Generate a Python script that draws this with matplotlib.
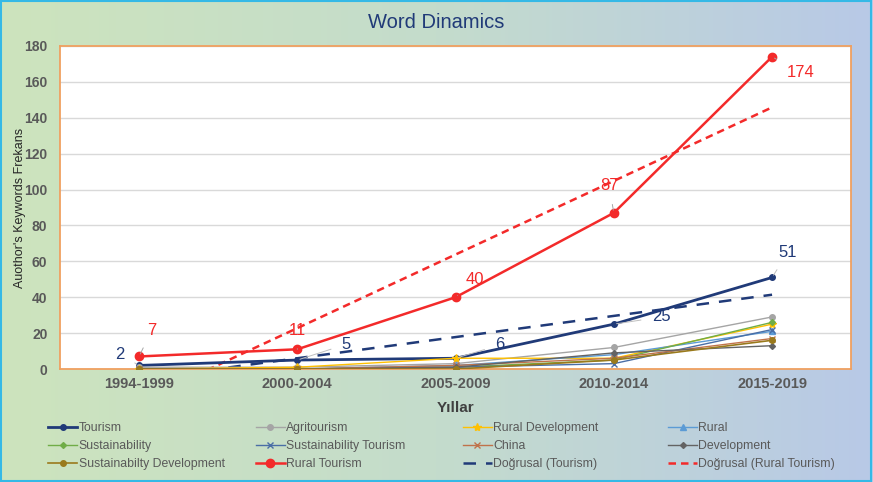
import numpy as np
import matplotlib
matplotlib.use("Agg")
import matplotlib.pyplot as plt
from matplotlib.colors import LinearSegmentedColormap

plt.rcParams["font.family"] = ["Liberation Sans", "DejaVu Sans"]

# data
periods = ["1994-1999", "2000-2004", "2005-2009", "2010-2014", "2015-2019"]
tourism = [2, 5, 6, 25, 51]
agritourism = [1, 1, 3, 12, 29]
rural_development = [0, 1, 6, 6, 25]
rural = [0, 0, 2, 8, 21]
sustainability = [0, 0, 1, 5, 26]
sustainability_tourism = [0, 0, 1, 3, 22]
china = [0, 0, 2, 6, 17]
development = [0, 0, 1, 9, 13]
sustainabilty_development = [0, 0, 0, 5, 16]
rural_tourism = [7, 11, 40, 87, 174]

labels_tourism = [(0, -0.12, 8), (1, 1.31, 13.8), (2, 2.28, 13.4), (3, 3.3, 29), (4, 4.1, 65)]
labels_rural = [(0, 0.08, 21.7), (1, 1.0, 21.7), (2, 2.12, 50), (3, 2.97, 102), (4, 4.18, 165)]

fig = plt.figure(figsize=(8.73, 4.82), dpi=100)

# gradient background
bg = fig.add_axes([0, 0, 1, 1], zorder=-10)
cmap = LinearSegmentedColormap.from_list("bg", ["#cde4bd", "#c4dccc", "#b8c9e7"])
grad = np.linspace(0, 1, 256).reshape(1, -1)
bg.imshow(grad, aspect="auto", cmap=cmap, extent=[0, 1, 0, 1])
bg.set_xlim(0, 1)
bg.set_ylim(0, 1)
bg.axis("off")
fig.patches.append(plt.Rectangle((0.001, 0.002), 0.997, 0.995, transform=fig.transFigure,
                                 fill=False, edgecolor="#35b9e6", lw=1.5))

ax = fig.add_axes([0.0687, 0.2344, 0.9063, 0.6702])
ax.set_facecolor("white")
x = np.arange(len(periods))

series = [
    ("Tourism", tourism, "#203a78", "o", 2.0, 4),
    ("Agritourism", agritourism, "#a5a5a5", "o", 1.0, 4),
    ("Rural Development", rural_development, "#ffc000", "*", 1.0, 6),
    ("Rural", rural, "#5b9bd5", "^", 1.0, 4),
    ("Sustainability", sustainability, "#70ad47", "D", 1.0, 3),
    ("Sustainability Tourism", sustainability_tourism, "#4a6ea6", "x", 1.0, 4),
    ("China", china, "#c0724a", "x", 1.0, 4),
    ("Development", development, "#636363", "D", 1.0, 3),
    ("Sustainabilty Development", sustainabilty_development, "#9a7a1c", "o", 1.2, 4),
    ("Rural Tourism", rural_tourism, "#f32a2a", "o", 1.8, 6),
]

handles = []
for name, vals, col, mk, lw, ms in series:
    h, = ax.plot(x, vals, color=col, marker=mk, lw=lw, ms=ms, label=name, zorder=3)
    handles.append(h)

# linear trend lines
xt = np.arange(1, len(periods) + 1)
for vals, col, name, ls in [(tourism, "#203a78", "Doğrusal (Tourism)", (0, (5, 4))),
                            (rural_tourism, "#f32a2a", "Doğrusal (Rural Tourism)", (0, (3, 2)))]:
    k, b = np.polyfit(xt, vals, 1)
    h, = ax.plot(x, k * xt + b, color=col, lw=1.8, ls=ls, label=name, zorder=2)
    handles.append(h)

for i, tx, ty in labels_tourism:
    ax.annotate(str(tourism[i]), xy=(x[i], tourism[i]), xytext=(tx, ty), color="#203a78",
                fontsize=12, ha="center", va="center",
                arrowprops=dict(arrowstyle="-", color="#bfbfbf", lw=0.7, shrinkA=6, shrinkB=2))
for i, tx, ty in labels_rural:
    ax.annotate(str(rural_tourism[i]), xy=(x[i], rural_tourism[i]), xytext=(tx, ty), color="#f32a2a",
                fontsize=12, ha="center", va="center",
                arrowprops=dict(arrowstyle="-", color="#a6a6a6", lw=0.7, shrinkA=6, shrinkB=2))

ax.set_xlim(-0.5, len(periods) - 0.5)
ax.set_ylim(0, 180)
ax.set_yticks(range(0, 181, 20))
ax.set_xticks(x)
ax.set_xticklabels(periods)
ax.tick_params(axis="x", length=0, labelsize=10.5, colors="#595959", pad=6)
ax.tick_params(axis="y", length=0, labelsize=10, colors="#595959", pad=9)
for lab in ax.get_xticklabels() + ax.get_yticklabels():
    lab.set_fontweight("bold")
ax.grid(axis="y", color="#d9d9d9", lw=1)
ax.set_axisbelow(True)
for sp in ax.spines.values():
    sp.set_color("#f0a060")
    sp.set_linewidth(1.3)

ax.set_xlabel("Yıllar", fontsize=11, fontweight="bold", color="#404040", labelpad=7)
ax.set_ylabel("Auothor's Keywords Frekans", fontsize=9, color="#262626")
ax.yaxis.set_label_coords(-0.043, 0.5)
fig.text(0.5, 0.953, "Word Dinamics", ha="center", va="center", fontsize=14.5, color="#203a78")

# legend: four columns placed like the reference, filled row by row
col_x = [0.055, 0.293, 0.53, 0.765]
for c in range(4):
    hs = [handles[c + 4 * r] for r in range(3) if c + 4 * r < len(handles)]
    leg = fig.legend(hs, [h.get_label() for h in hs], loc="upper left",
                     bbox_to_anchor=(col_x[c], 0.124), frameon=False, fontsize=8.8,
                     handlelength=2.4, handletextpad=0.1, labelspacing=0.5,
                     borderaxespad=0, borderpad=0)
    for t in leg.get_texts():
        t.set_color("#595959")

fig.savefig("out.png", dpi=100)
